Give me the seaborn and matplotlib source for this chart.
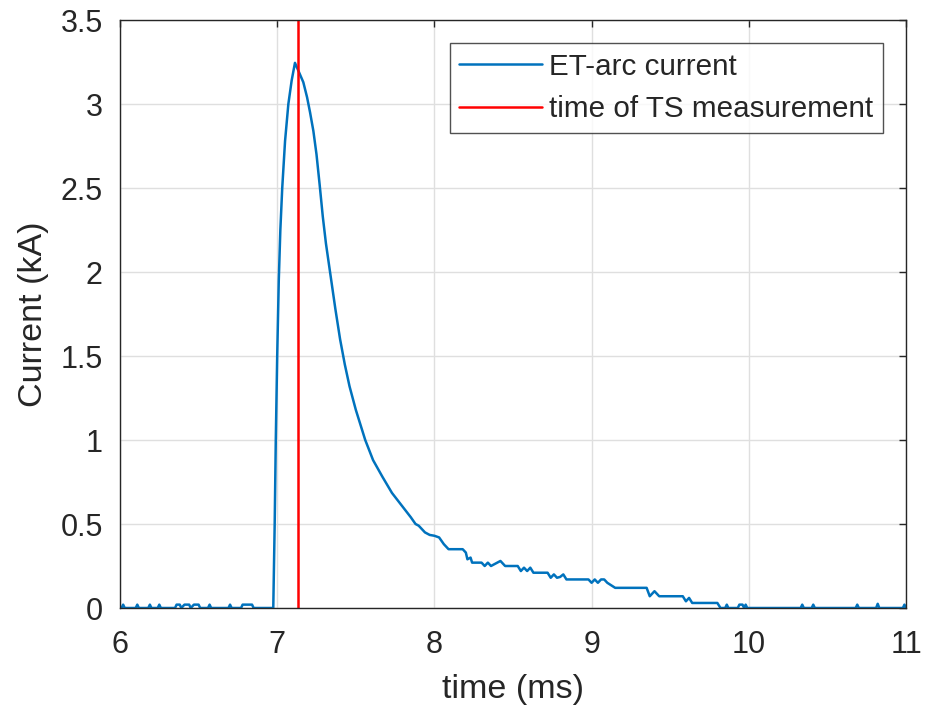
import matplotlib
matplotlib.use("Agg")
import matplotlib.pyplot as plt
import seaborn as sns
import pandas as pd

# ---- data ----
time_ms = [
    6.00, 6.01, 6.02, 6.03, 6.10, 6.11, 6.12, 6.18, 6.19, 6.20, 6.24, 6.25, 6.26,
    6.35, 6.36, 6.38, 6.39, 6.41, 6.44, 6.45, 6.47, 6.50, 6.51, 6.56, 6.57, 6.58,
    6.69, 6.70, 6.71, 6.77, 6.78, 6.84, 6.85, 6.96, 6.975,
    6.984, 6.991, 7.000, 7.010, 7.020, 7.032, 7.050, 7.071, 7.092, 7.113,
    7.134, 7.166, 7.19, 7.209, 7.23, 7.25, 7.27, 7.29, 7.31, 7.336, 7.37, 7.40,
    7.43, 7.46, 7.50, 7.56, 7.61, 7.67, 7.73, 7.80, 7.85, 7.88, 7.90, 7.94, 7.97,
    8.00, 8.03, 8.06, 8.09, 8.18, 8.20, 8.21, 8.23, 8.24, 8.30, 8.32, 8.34, 8.36,
    8.40, 8.42, 8.45, 8.53, 8.55, 8.57, 8.59, 8.61, 8.63, 8.72, 8.74, 8.76, 8.78,
    8.80, 8.82, 8.84, 8.98, 9.00, 9.02, 9.04, 9.06, 9.08, 9.10, 9.15, 9.35, 9.37,
    9.40, 9.43, 9.58, 9.60, 9.62, 9.64, 9.80, 9.82, 9.85, 9.86, 9.87, 9.93, 9.94,
    9.96, 9.97, 9.98, 9.99, 10.33, 10.34, 10.35, 10.40, 10.41, 10.42, 10.68,
    10.69, 10.70, 10.81, 10.82, 10.83, 10.98, 10.99, 11.00,
]
current_kA = [
    0.00, 0.00, 0.02, 0.00, 0.00, 0.02, 0.00, 0.00, 0.02, 0.00, 0.00, 0.02, 0.00,
    0.00, 0.02, 0.02, 0.00, 0.02, 0.02, 0.00, 0.02, 0.02, 0.00, 0.00, 0.02, 0.00,
    0.00, 0.02, 0.00, 0.00, 0.02, 0.02, 0.00, 0.00, 0.00,
    0.50, 1.00, 1.50, 1.95, 2.25, 2.50, 2.78, 3.00, 3.14, 3.245,
    3.20, 3.13, 3.04, 2.95, 2.84, 2.70, 2.52, 2.33, 2.17, 2.00, 1.78, 1.60,
    1.45, 1.32, 1.18, 1.00, 0.88, 0.78, 0.685, 0.60, 0.54, 0.50, 0.49, 0.45, 0.435,
    0.43, 0.42, 0.38, 0.35, 0.35, 0.33, 0.29, 0.30, 0.27, 0.27, 0.25, 0.27, 0.25,
    0.27, 0.28, 0.25, 0.25, 0.22, 0.24, 0.22, 0.24, 0.21, 0.21, 0.18, 0.20, 0.18,
    0.185, 0.20, 0.17, 0.17, 0.15, 0.17, 0.15, 0.17, 0.17, 0.15, 0.12, 0.12, 0.07,
    0.10, 0.07, 0.07, 0.04, 0.06, 0.03, 0.03, 0.00, 0.00, 0.02, 0.00, 0.00, 0.02,
    0.02, 0.00, 0.02, 0.00, 0.00, 0.02, 0.00, 0.00, 0.02, 0.00, 0.00,
    0.02, 0.00, 0.00, 0.025, 0.00, 0.00, 0.02, 0.00,
]
ts_time = 7.13
x_ticks = [6, 7, 8, 9, 10, 11]
y_ticks = [0, 0.5, 1, 1.5, 2, 2.5, 3, 3.5]
y_ticklabels = ["0", "0.5", "1", "1.5", "2", "2.5", "3", "3.5"]

df = pd.DataFrame({"time": time_ms, "current": current_kA})

sns.set_style("white")
plt.rcParams["font.family"] = ["Liberation Sans", "DejaVu Sans"]

fig = plt.figure(figsize=(9.26, 7.17), dpi=100)
ax = fig.add_axes([120 / 926, 1 - 608 / 717, (906 - 120) / 926, (608 - 20) / 717])

sns.lineplot(data=df, x="time", y="current", ax=ax, color="#0072BD",
             linewidth=1.8, label="ET-arc current", estimator=None, sort=False)
ax.axvline(ts_time, color="#FF0000", linewidth=1.8, label="time of TS measurement")

ax.set_xlim(6, 11)
ax.set_ylim(0, 3.5)
ax.set_xticks(x_ticks)
ax.set_xticklabels([str(v) for v in x_ticks])
ax.set_yticks(y_ticks)
ax.set_yticklabels(y_ticklabels)
ax.grid(True, color="#DFDFDF", linewidth=1.0)
ax.set_axisbelow(True)
for s in ax.spines.values():
    s.set_color("#262626")
    s.set_linewidth(1.0)
ax.tick_params(axis="both", direction="in", length=5, width=1.0, color="#262626",
               labelsize=22, labelcolor="#262626", top=True, right=True)
ax.tick_params(axis="x", pad=16)
ax.tick_params(axis="y", pad=12.5)
ax.set_xlabel("time (ms)", fontsize=24.5, color="#262626", labelpad=10)
ax.set_ylabel("Current (kA)", fontsize=24.5, color="#262626", labelpad=8)

leg = ax.legend(loc="upper right", fontsize=21.3, frameon=True, fancybox=False,
                edgecolor="#262626", handlelength=2.8, borderpad=0.32,
                labelspacing=0.5, handletextpad=0.25, borderaxespad=0.78)
leg.get_frame().set_linewidth(1.0)
for t in leg.get_texts():
    t.set_color("#262626")

fig.savefig("out.png", dpi=100)
